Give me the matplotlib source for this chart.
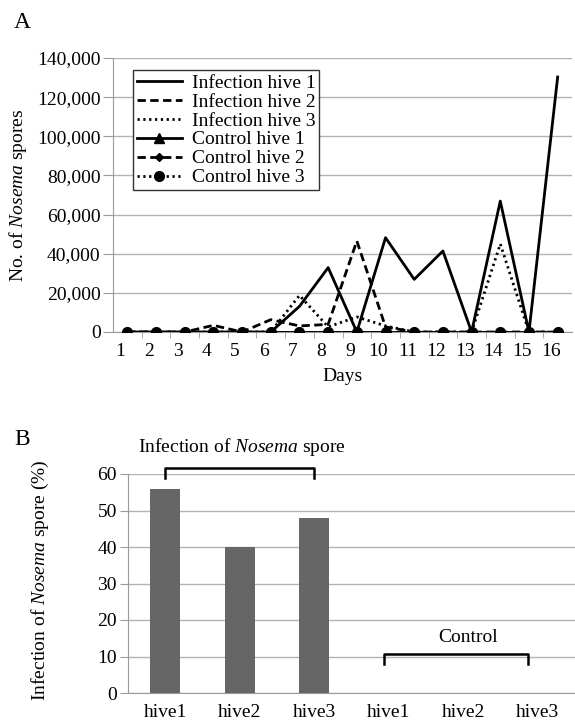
import matplotlib
matplotlib.use("Agg")
import matplotlib.pyplot as plt
import matplotlib.transforms as mtransforms
from matplotlib.ticker import FuncFormatter

plt.rcParams['font.family'] = ['Liberation Serif', 'DejaVu Serif']
plt.rcParams['mathtext.fontset'] = 'custom'
plt.rcParams['mathtext.rm'] = 'Liberation Serif'
plt.rcParams['mathtext.it'] = 'Liberation Serif:italic'

# panel A data: spores per day
days = list(range(1, 17))
inf_hive1 = [0, 0, 0, 0, 0, 0, 13100, 32900, 0, 48200, 26900, 41400, 0, 66900, 0, 130300]
inf_hive2 = [0, 0, 0, 3400, 0, 6300, 3100, 3900, 46500, 2600, 0, 0, 0, 0, 0, 0]
inf_hive3 = [0, 0, 0, 0, 0, 0, 18700, 2600, 7700, 3100, 0, 0, 0, 45000, 0, 0]
ctl_hive1 = [0] * 16
ctl_hive2 = [0] * 16
ctl_hive3 = [0] * 16

# panel B data: infection percentage
hive_labels = ['hive1', 'hive2', 'hive3', 'hive1', 'hive2', 'hive3']
infection_pct = [56, 40, 48, 0, 0, 0]

W, H = 575, 723
fig = plt.figure(figsize=(W / 100, H / 100), dpi=100)

grid_col = '#b3b3b3'
axis_col = '#9a9a9a'
fs = 14

# ---------- panel A ----------
axA = fig.add_axes([113 / W, 1 - 332 / H, 459 / W, 274 / H])
lw = 2.0
dash = (0, (3, 1.6))
dot = (0, (0.8, 1.3))
axA.plot(days, inf_hive1, color='black', lw=lw, label='Infection hive 1', zorder=3)
axA.plot(days, inf_hive2, color='black', lw=lw, ls=dash, label='Infection hive 2', zorder=3)
axA.plot(days, inf_hive3, color='black', lw=lw, ls=dot, label='Infection hive 3', zorder=3)
axA.plot(days, ctl_hive1, color='black', lw=lw, marker='^', ms=6.5, label='Control hive 1', zorder=4)
axA.plot(days, ctl_hive2, color='black', lw=lw, ls=dash, marker='D', ms=4.5,
         label='Control hive 2', zorder=4)
axA.plot(days, ctl_hive3, color='black', lw=lw, ls=dot, marker='o', ms=7,
         label='Control hive 3', zorder=4)

axA.set_xlim(0.5, 16.5)
axA.set_ylim(0, 140000)
axA.set_yticks(range(0, 140001, 20000))
axA.yaxis.set_major_formatter(FuncFormatter(lambda v, p: f'{int(v):,}'))
axA.set_xticks(days)
axA.set_xticks([d + 0.5 for d in days[:-1]], minor=True)
axA.tick_params(axis='x', which='major', length=0, labelsize=fs, pad=8)
axA.tick_params(axis='x', which='minor', length=4, color=axis_col)
axA.tick_params(axis='y', length=7, color=axis_col, labelsize=fs, pad=2)
offset = mtransforms.ScaledTranslation(-0.07, 0, fig.dpi_scale_trans)
for lab in axA.get_xticklabels():
    lab.set_transform(lab.get_transform() + offset)
axA.grid(axis='y', color=grid_col, lw=1)
axA.set_axisbelow(True)
for s in ['top', 'right']:
    axA.spines[s].set_visible(False)
axA.spines['left'].set_color(axis_col)
axA.spines['bottom'].set_color(axis_col)
axA.set_xlabel('Days', fontsize=fs, labelpad=6)

leg = axA.legend(loc='upper left', bbox_to_anchor=(0.044, 0.956), borderaxespad=0,
                 fontsize=14, handlelength=2.3, labelspacing=0.07, handletextpad=0.5,
                 borderpad=0.2, fancybox=False, framealpha=1, edgecolor='#333333')
leg.get_frame().set_linewidth(1)

fig.text(18 / W, 1 - 195 / H, 'No. of $\\it{Nosema}$ spores', rotation=90,
         ha='center', va='center', fontsize=fs)
fig.text(22 / W, 1 - 22 / H, 'A', ha='center', va='center', fontsize=17)

# ---------- panel B ----------
axB = fig.add_axes([128 / W, 1 - 693 / H, 447 / W, 219 / H])
xpos = list(range(len(hive_labels)))
axB.bar(xpos, infection_pct, width=0.4, color='#666666', zorder=3)
axB.set_xlim(-0.5, 5.5)
axB.set_ylim(0, 60)
axB.set_yticks(range(0, 61, 10))
axB.set_xticks(xpos)
axB.set_xticklabels(hive_labels)
axB.tick_params(axis='x', length=0, labelsize=fs, pad=8)
axB.tick_params(axis='y', length=6, color=axis_col, labelsize=fs, pad=2)
axB.grid(axis='y', color=grid_col, lw=1)
axB.set_axisbelow(True)
for s in ['top', 'right']:
    axB.spines[s].set_visible(False)
axB.spines['left'].set_color(axis_col)
axB.spines['bottom'].set_color(axis_col)

# brackets over the groups
axB.plot([0, 0, 2, 2], [58.9, 61.7, 61.7, 58.9], color='black', lw=1.8, clip_on=False, zorder=5)
axB.text(1.03, 67.3, 'Infection of $\\it{Nosema}$ spore', ha='center', va='center', fontsize=fs)
axB.plot([2.93, 2.93, 4.87, 4.87], [7.9, 10.7, 10.7, 7.9], color='black', lw=1.8, clip_on=False, zorder=5)
axB.text(4.07, 15.3, 'Control', ha='center', va='center', fontsize=fs)

fig.text(40 / W, 1 - 580 / H, 'Infection of $\\it{Nosema}$ spore (%)', rotation=90,
         ha='center', va='center', fontsize=fs)
fig.text(22 / W, 1 - 440 / H, 'B', ha='center', va='center', fontsize=17)

fig.savefig('out.png', dpi=100)
